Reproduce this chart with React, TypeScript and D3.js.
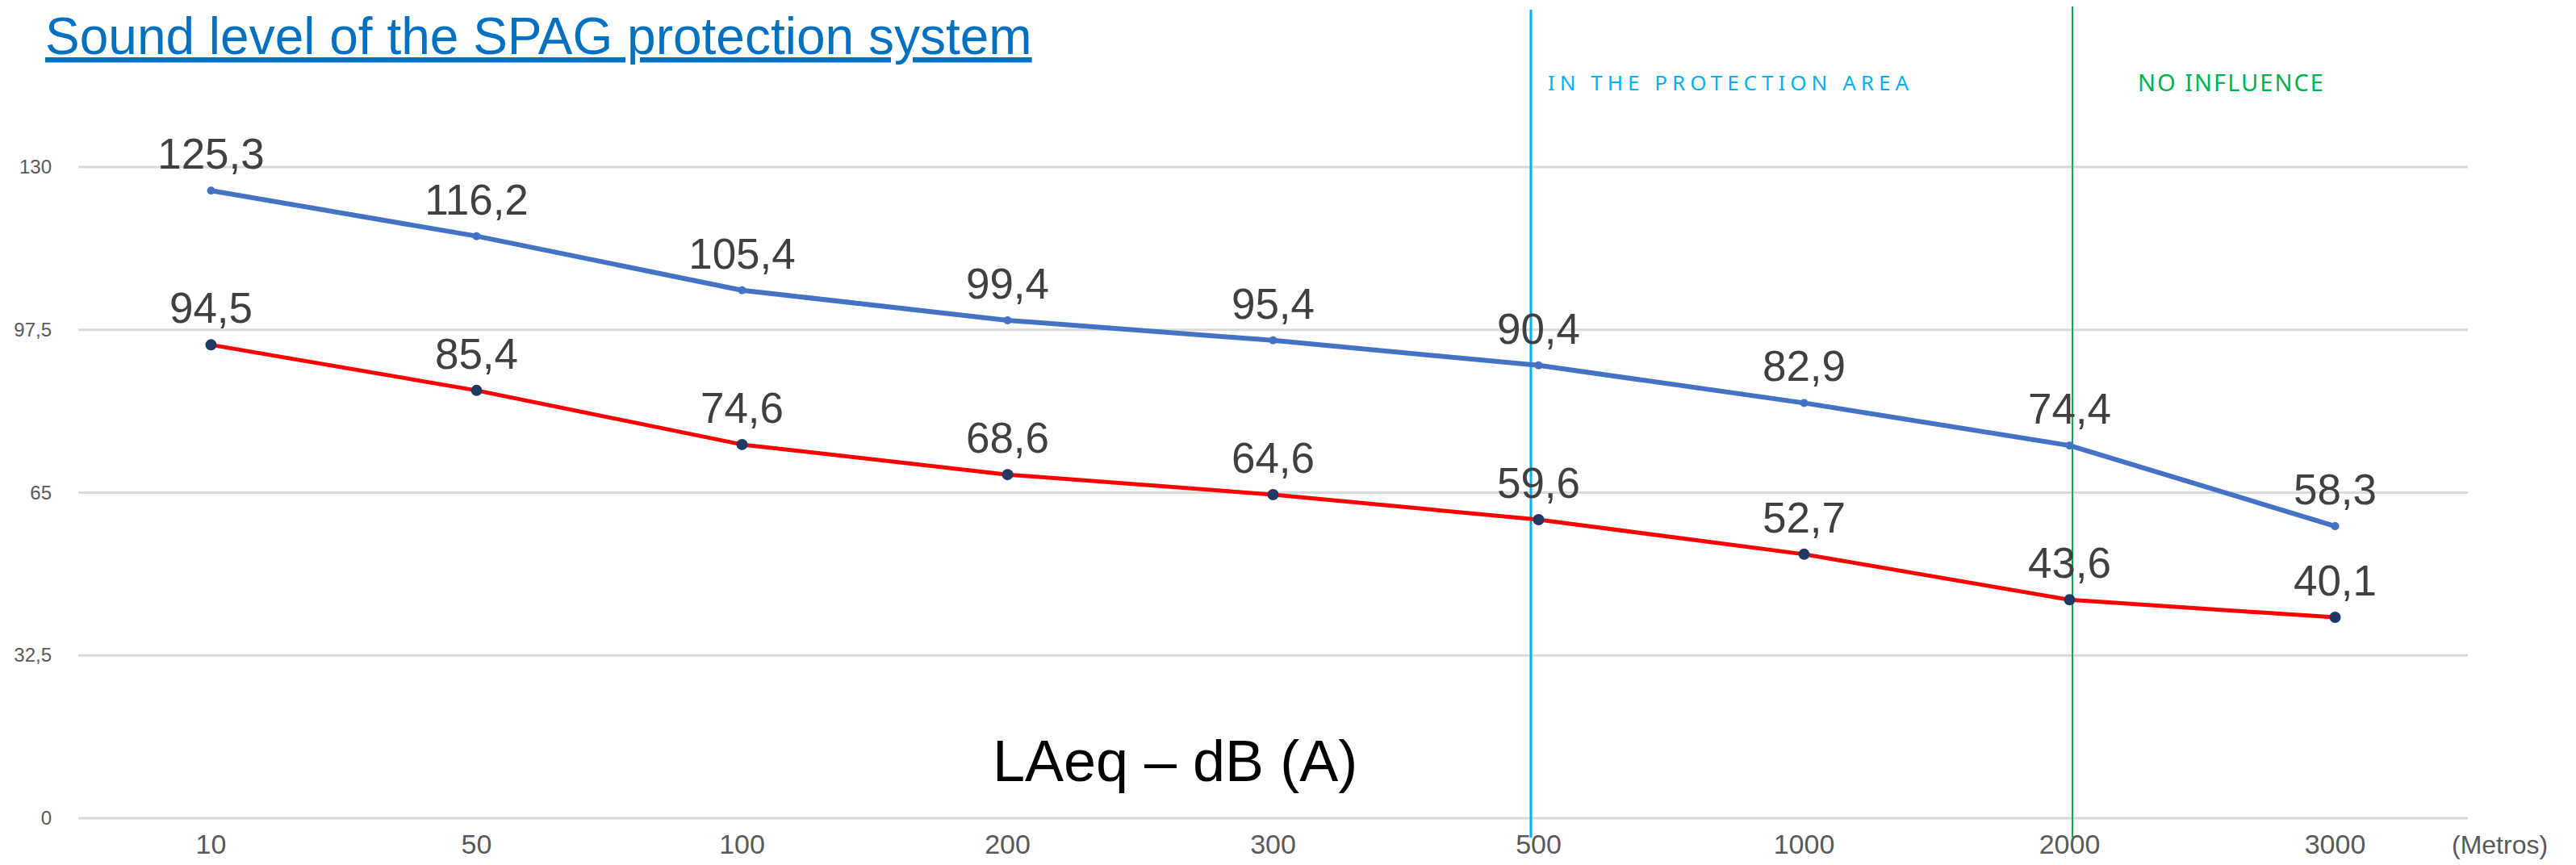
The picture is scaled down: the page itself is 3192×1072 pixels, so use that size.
import React from 'react';
import * as d3 from 'd3';

// distances (metres) and the two measured series
const distances = ['10', '50', '100', '200', '300', '500', '1000', '2000', '3000'];
const withoutProtection = [125.3, 116.2, 105.4, 99.4, 95.4, 90.4, 82.9, 74.4, 58.3];
const withProtection = [94.5, 85.4, 74.6, 68.6, 64.6, 59.6, 52.7, 43.6, 40.1];
const yTicks = [0, 32.5, 65, 97.5, 130];
const zoneMarkers = [
  { at: '500', label: 'IN THE PROTECTION AREA', color: '#00B0F0', textColor: '#00B0F0' },
  { at: '2000', label: 'NO INFLUENCE', color: '#00B050', textColor: '#00B050' },
];

const W = 3192;
const H = 1072;
const font = '"Liberation Sans", Arial, sans-serif';

const fmt = (v: number) => String(v).replace('.', ',');

const App: React.FC = () => {
  const x = d3.scalePoint<string>().domain(distances).range([97, 3058]).padding(0.5);
  const y = d3.scaleLinear().domain([0, 130]).range([1014, 207]);

  const line = d3
    .line<number>()
    .x((_, i) => x(distances[i]) as number)
    .y(d => y(d));

  const series = [
    { values: withoutProtection, stroke: '#4472C4', width: 6, dot: '#4472C4', r: 5 },
    { values: withProtection, stroke: '#FF0000', width: 5, dot: '#203864', r: 7 },
  ];

  return (
    <svg
      width={W}
      height={H}
      viewBox={`0 0 ${W} ${H}`}
      style={{ position: 'absolute', left: 0, top: 0, background: '#fff' }}
    >
      {/* title */}
      <text
        x={56}
        y={67}
        fontFamily={font}
        fontSize={64}
        fill="#0070C0"
        style={{ textDecoration: 'underline' }}
      >
        Sound level of the SPAG protection system
      </text>

      {/* gridlines + y labels */}
      {yTicks.map(t => (
        <g key={t}>
          <line x1={97} x2={3058} y1={y(t)} y2={y(t)} stroke="#D9D9D9" strokeWidth={3} />
          <text
            x={64}
            y={y(t) + 8}
            textAnchor="end"
            fontFamily={font}
            fontSize={24}
            fill="#595959"
          >
            {fmt(t)}
          </text>
        </g>
      ))}

      {/* x labels */}
      {distances.map(d => (
        <text
          key={d}
          x={x(d)}
          y={1058}
          textAnchor="middle"
          fontFamily={font}
          fontSize={34}
          fill="#595959"
        >
          {d}
        </text>
      ))}
      <text x={3038} y={1058} fontFamily={font} fontSize={32} fill="#595959">
        (Metros)
      </text>

      {/* axis title */}
      <text x={1456} y={968} textAnchor="middle" fontFamily={font} fontSize={72} fill="#000">
        LAeq – dB (A)
      </text>

      {/* zone markers */}
      <line x1={1897} x2={1897} y1={12} y2={1038} stroke={zoneMarkers[0].color} strokeWidth={3} />
      <text
        x={1918}
        y={112}
        fontFamily='"Noto Sans", "Open Sans", sans-serif'
        fontSize={26}
        letterSpacing={6}
        fill={zoneMarkers[0].textColor}
      >
        {zoneMarkers[0].label}
      </text>
      <line x1={2568} x2={2568} y1={8} y2={1038} stroke={zoneMarkers[1].color} strokeWidth={2} />
      <text
        x={2649}
        y={113}
        fontFamily='"Noto Sans", "Open Sans", sans-serif'
        fontSize={29}
        letterSpacing={2}
        fill={zoneMarkers[1].textColor}
      >
        {zoneMarkers[1].label}
      </text>

      {/* series */}
      {series.map((s, si) => (
        <g key={si}>
          <path d={line(s.values) || ''} fill="none" stroke={s.stroke} strokeWidth={s.width} strokeLinejoin="round" />
          {s.values.map((v, i) => (
            <circle key={i} cx={x(distances[i])} cy={y(v)} r={s.r} fill={s.dot} />
          ))}
          {s.values.map((v, i) => (
            <text
              key={'l' + i}
              x={x(distances[i])}
              y={y(v) - 27}
              textAnchor="middle"
              fontFamily={font}
              fontSize={53}
              fill="#404040"
            >
              {fmt(v)}
            </text>
          ))}
        </g>
      ))}
    </svg>
  );
};

export default App;
